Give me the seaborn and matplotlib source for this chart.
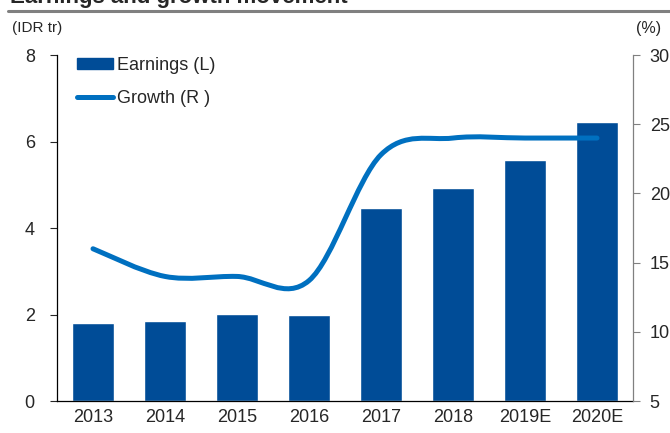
import numpy as np
import pandas as pd
import matplotlib
matplotlib.use("Agg")
import matplotlib.pyplot as plt
from matplotlib.path import Path
from matplotlib.patches import PathPatch, Patch
from matplotlib.lines import Line2D
import seaborn as sns

# values
years = ['2013', '2014', '2015', '2016', '2017', '2018', '2019E', '2020E']
earnings = [1.81, 1.85, 2.02, 2.00, 4.46, 4.93, 5.58, 6.44]   # IDR tr, left axis
growth = [16.0, 14.0, 14.0, 13.7, 22.8, 24.0, 24.0, 24.0]      # %, right axis

bar_col = '#004C97'
line_col = '#0070C0'
fs = 13

sns.set_style('white')
plt.rcParams['font.family'] = ['Liberation Sans', 'DejaVu Sans']

df = pd.DataFrame({'year': years, 'earnings': earnings, 'growth': growth})

fig = plt.figure(figsize=(6.7, 4.33), dpi=100)
ax = fig.add_axes([57/670, 1-401/433, (633-57)/670, (401-55)/433])

sns.barplot(data=df, x='year', y='earnings', color=bar_col, width=0.57,
            saturation=1, ax=ax)
ax.set_xlim(-0.5, 7.5)
ax.set_ylim(0, 8)
ax.set_yticks([0, 2, 4, 6, 8])
ax.set_xlabel('')
ax.set_ylabel('')

# x ticks: labels at centres, small marks at category edges pointing up
ax.set_xticks(range(len(years)))
ax.set_xticklabels(years)
ax.set_xticks(np.arange(0.5, len(years) - 1, 1), minor=True)
ax.tick_params(axis='x', which='major', length=0, pad=6, labelsize=fs)
ax.tick_params(axis='x', which='minor', direction='in', length=5, width=0.8, color='#808080')
ax.tick_params(axis='y', which='major', direction='out', length=5, width=0.8,
               pad=11, labelsize=fs, left=True)

for s in ['top', 'right']:
    ax.spines[s].set_visible(False)
ax.spines['left'].set_color('black')
ax.spines['bottom'].set_color('black')
ax.spines['left'].set_linewidth(0.9)
ax.spines['bottom'].set_linewidth(0.9)

# growth line on the right axis, smoothed like a spreadsheet chart
ax2 = ax.twinx()
ax2.set_ylim(5, 30)
ax2.set_yticks([5, 10, 15, 20, 25, 30])
ax2.tick_params(axis='y', direction='out', length=5, width=0.8, pad=7,
                labelsize=fs, right=True, color='#808080')
for s in ['top', 'left', 'bottom']:
    ax2.spines[s].set_visible(False)
ax2.spines['right'].set_color('#808080')
ax2.spines['right'].set_linewidth(0.9)

xs = np.arange(len(years), dtype=float)
ys = np.array(growth, dtype=float)
pts = np.column_stack([xs, ys])
verts = [pts[0]]
codes = [Path.MOVETO]
n = len(pts)
for i in range(n - 1):
    p_prev = pts[i - 1] if i > 0 else pts[i]
    p_next2 = pts[i + 2] if i + 2 < n else pts[i + 1]
    c1 = pts[i] + (pts[i + 1] - p_prev) / 6
    c2 = pts[i + 1] - (p_next2 - pts[i]) / 6
    verts += [c1, c2, pts[i + 1]]
    codes += [Path.CURVE4] * 3
curve = PathPatch(Path(verts, codes), fill=False, edgecolor=line_col, lw=3.6,
                  capstyle='round', joinstyle='round', transform=ax2.transData)
ax2.add_patch(curve)

# legend
handles = [Patch(facecolor=bar_col, edgecolor=bar_col),
           Line2D([0], [0], color=line_col, lw=3.6, solid_capstyle='round')]
fig.legend(handles, ['Earnings (L)', 'Growth (R )'], loc='upper left',
           bbox_to_anchor=(77/670, 1-57/433), frameon=False, fontsize=fs,
           handlelength=2.0, handleheight=0.5, handletextpad=0.2, labelspacing=0.9,
           borderaxespad=0, borderpad=0)

# axis unit labels
fig.text(12/670, 1-28/433, '(IDR tr)', fontsize=11, va='center', ha='left')
fig.text(636/670, 1-28/433, '(%)', fontsize=11.5, va='center', ha='left')

# title, cut off at the top edge, and the rule under it
fig.text(10/670, 1-3/433, 'Earnings and growth movement', fontsize=16,
         fontweight='bold', va='baseline', ha='left')
fig.add_artist(Line2D([8/670, 1], [1-11/433, 1-11/433], color='#808080', lw=2.2,
                      transform=fig.transFigure))

fig.savefig('out.png', dpi=100)
